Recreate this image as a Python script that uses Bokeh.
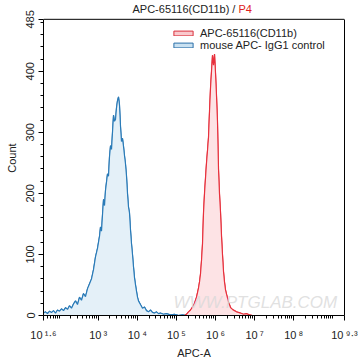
from bokeh.plotting import figure
from bokeh.models import (FixedTicker, Label, Legend, LegendItem, LinearAxis, Span)
from bokeh.embed import file_html
from bokeh.resources import INLINE
import math

# ---------------- data (x in log10 units of APC-A, y = count) ----------------
iso_x = [1.600, 1.651, 1.702, 1.753, 1.805, 1.856, 1.907, 1.958, 2.009, 2.060,
         2.112, 2.163, 2.214, 2.265, 2.316, 2.367, 2.419, 2.470, 2.521, 2.572,
         2.623, 2.674, 2.726, 2.777, 2.828, 2.879, 2.930, 2.981, 3.033, 3.058,
         3.084, 3.109, 3.135, 3.161, 3.186, 3.237, 3.263, 3.288, 3.314, 3.340,
         3.365, 3.391, 3.416, 3.442, 3.467, 3.493, 3.519, 3.544, 3.570, 3.595,
         3.621, 3.647, 3.672, 3.698, 3.723, 3.749, 3.774, 3.800, 3.826, 3.851,
         3.877, 3.902, 3.928, 3.954, 3.979, 4.005, 4.030, 4.081, 4.133, 4.184,
         4.235, 4.286, 4.337, 4.388, 4.440, 4.491, 4.542, 4.593, 4.670, 4.747,
         4.849, 4.951, 5.054, 5.156, 5.258]
iso_y = [4, 6, 3, 7, 5, 8, 4, 9, 7, 11,
         8, 13, 10, 16, 12, 19, 24, 18, 30, 25,
         36, 31, 44, 52, 60, 75, 96, 110, 130, 145,
         138, 165, 190, 180, 205, 232, 228, 260, 278, 272,
         300, 328, 318, 321, 340, 352, 358, 345, 310, 285,
         290, 277, 262, 248, 229, 200, 178, 168, 140, 118,
         100, 80, 62, 50, 40, 30, 24, 18, 12, 14,
         8, 6, 9, 5, 4, 6, 3, 4, 2, 3,
         1, 2, 0, 1, 0]

cd11b_x = [5.207, 5.258, 5.309, 5.361, 5.412, 5.463, 5.514, 5.565, 5.591, 5.616,
           5.642, 5.668, 5.693, 5.719, 5.744, 5.770, 5.795, 5.821, 5.847, 5.872,
           5.898, 5.923, 5.949, 5.975, 6.000, 6.026, 6.051, 6.077, 6.102, 6.128,
           6.154, 6.179, 6.205, 6.230, 6.256, 6.282, 6.307, 6.333, 6.358, 6.384,
           6.435, 6.486, 6.537, 6.588, 6.640, 6.716, 6.793, 6.870, 6.947]
cd11b_y = [0, 2, 6, 9, 14, 20, 30, 45, 55, 68,
           90, 118, 168, 200, 225, 250, 270, 292, 335, 372,
           400, 426, 410, 428, 398, 360, 318, 240, 200, 170,
           130, 100, 72, 55, 42, 35, 29, 22, 18, 13,
           10, 8, 6, 5, 4, 2, 3, 1, 0]

x_ticks = [1.6, 3, 4, 5, 6, 7, 8, 9.3]
x_tick_labels = ["10\u2009\u00b9\u00b7\u2076", "10\u2009\u00b3", "10\u2009\u2074",
                 "10\u2009\u2075", "10\u2009\u2076", "10\u2009\u2077", "10\u2009\u2078",
                 "10\u2009\u2079\u00b7\u00b3"]
y_ticks = [0, 100, 200, 300, 400, 485]

series_labels = ["APC-65116(CD11b)", "mouse APC- IgG1 control"]
title_main = "APC-65116(CD11b) / "
title_gate = "P4"
watermark = "WWW.PTGLAB.COM"

# ---------------- figure ----------------
FONT = "Liberation Sans"
TXT = "#222222"
# frame extends 19 px above the plot box so the title can sit inside it
y_top = y_ticks[-1] * 318 / 299
p = figure(width=358, height=361, output_backend="svg", toolbar_location=None,
           x_range=(x_ticks[0], x_ticks[-1]), y_range=(y_ticks[0], y_top),
           min_border_left=43, min_border_right=14, min_border_top=0,
           min_border_bottom=43)
p.xgrid.visible = False
p.ygrid.visible = False
p.outline_line_color = None
p.background_fill_color = "white"
p.border_fill_color = "white"

# watermark
p.add_layout(Label(x=7.02, y=21, text=watermark,
                   text_font=FONT, text_font_size="17px", text_font_style="italic",
                   text_color="#d9d9d9", text_alpha=0.8, text_align="center",
                   text_baseline="middle"))

# legend proxies (hidden underneath the visible fills)
r_red = p.patch(x=cd11b_x, y=cd11b_y, fill_color="#f9c9cd", line_color="#d9303c", line_width=1)
r_blue = p.patch(x=iso_x, y=iso_y, fill_color="#c9e1f1", line_color="#2a6fa8", line_width=1)

# histograms
p.varea(x=iso_x, y1=0, y2=iso_y, fill_color="#e4f0f8", fill_alpha=1)
p.line(iso_x, iso_y, line_color="#2a7bb8", line_width=1.2)
p.varea(x=cd11b_x, y1=0, y2=cd11b_y, fill_color="#fde3e5", fill_alpha=1)
p.line(cd11b_x, cd11b_y, line_color="#e8303c", line_width=1.2)

legend = Legend(items=[LegendItem(label=series_labels[0], renderers=[r_red]),
                       LegendItem(label=series_labels[1], renderers=[r_blue])],
                location=(126, 262), orientation="vertical")
legend.glyph_width = 24
legend.glyph_height = 6
legend.label_height = 12
legend.label_standoff = 5
legend.spacing = 0
legend.padding = 2
legend.margin = 0
legend.border_line_alpha = 0
legend.background_fill_alpha = 0
legend.label_text_font = FONT
legend.label_text_font_size = "11px"
legend.label_text_color = TXT
p.add_layout(legend)

# axes
minor_x = []
for d in range(1, 10):
    for k in range(1, 10):
        v = math.log10(k * 10 ** d)
        if x_ticks[0] < v < x_ticks[-1] and v not in x_ticks:
            minor_x.append(v)
xa = p.below[0]
ya = p.left[0]
xa.ticker = FixedTicker(ticks=x_ticks, minor_ticks=minor_x)
xa.major_label_overrides = dict(zip(x_ticks, x_tick_labels))
xa.major_label_standoff = 8
xa.axis_label = "APC-A"
xa.axis_label_standoff = 3

ya.ticker = FixedTicker(ticks=y_ticks,
                        minor_ticks=[v for v in range(20, 485, 20) if v % 100])
ya.bounds = (y_ticks[0], y_ticks[-1])
ya.major_label_orientation = "vertical"
ya.major_label_standoff = 4
ya.axis_label = "Count"
ya.axis_label_standoff = 6

for ax in (xa, ya):
    ax.axis_line_color = "black"
    ax.major_tick_line_color = "black"
    ax.minor_tick_line_color = "black"
    ax.major_tick_out = 5
    ax.major_tick_in = 0
    ax.minor_tick_out = 3
    ax.minor_tick_in = 0
    ax.major_label_text_font = FONT
    ax.major_label_text_font_size = "11px"
    ax.major_label_text_color = TXT
    ax.axis_label_text_font = FONT
    ax.axis_label_text_font_size = "11px"
    ax.axis_label_text_font_style = "normal"
    ax.axis_label_text_color = TXT

# plot box: top border and right border
p.add_layout(Span(location=y_ticks[-1], dimension="width", line_color="black", line_width=1))
right_ax = LinearAxis(ticker=FixedTicker(ticks=[]), bounds=(y_ticks[0], y_ticks[-1]),
                      axis_line_color="black", major_tick_line_color=None,
                      minor_tick_line_color=None)
p.add_layout(right_ax, "right")

# title (two colours), inside the extended frame above the plot box
p.add_layout(Label(x=x_ticks[0], y=y_ticks[-1], x_offset=89, y_offset=10, text=title_main,
                   text_font=FONT, text_font_size="11px", text_color=TXT,
                   text_align="left", text_baseline="middle"))
p.add_layout(Label(x=x_ticks[0], y=y_ticks[-1], x_offset=195, y_offset=10, text=title_gate,
                   text_font=FONT, text_font_size="11px", text_color="#e02020",
                   text_align="left", text_baseline="middle"))

open("out.html", "w").write(file_html(p, INLINE))
